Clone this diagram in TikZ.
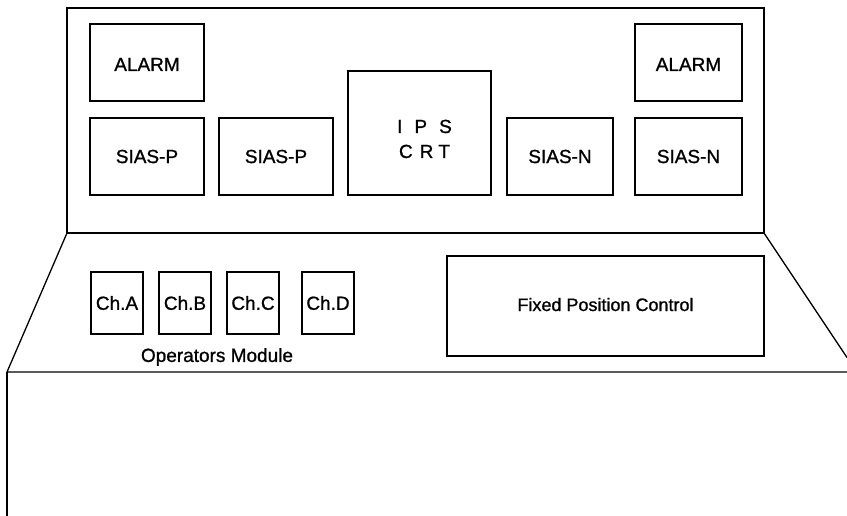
\documentclass[tikz,border=0pt]{standalone}
\usepackage{fontspec}
\setmainfont{Liberation Sans}[FakeBold=1]
\usetikzlibrary{positioning}

\begin{document}
\begin{tikzpicture}[
  x=1pt, y=-1pt, line width=1.3pt,
  box/.style={draw, line width=1.3pt, inner sep=0pt, outer sep=0pt, align=center,
              font=\fontsize{19}{24}\selectfont},
  sias/.style={box, minimum height=77pt},
  chan/.style={box, minimum width=52pt, minimum height=62pt}
]
  \useasboundingbox (0,0) rectangle (847,516);

  % upper panel
  \coordinate (pnw) at (67,8);
  \coordinate (pse) at (764,233);
  \coordinate (psw) at (67,233);
  \draw (pnw) rectangle (pse);

  \node[sias, minimum width=114pt]                                   (siasP1) at (147,156.5) {SIAS-P};
  \node[sias, minimum width=114pt, right=15pt of siasP1]             (siasP2) {SIAS-P};
  \node[box, minimum width=143pt, minimum height=124pt,
        right=15pt of siasP2.south east, anchor=south west]          (ips)
        {\hspace*{10pt}\raisebox{-25pt}[0pt][0pt]{\fontsize{19}{25}\selectfont
          \begin{tabular}[b]{@{}c@{}}I\hspace{12pt}P\hspace{12pt}S\\C\hspace{7pt}R\hspace{5pt}T\end{tabular}}};
  \node[sias, minimum width=106pt,
        right=16pt of ips.south east, anchor=south west]             (siasN1) {SIAS-N};
  \node[sias, minimum width=107pt, right=22pt of siasN1]             (siasN2) {SIAS-N};
  \node[sias, minimum width=114pt, above=17pt of siasP1]             (alarmL) {\raisebox{-8.5pt}[0pt][0pt]{ALARM}};
  \node[sias, minimum width=107pt, above=17pt of siasN2]             (alarmR) {\raisebox{-8.5pt}[0pt][0pt]{ALARM}};

  % console desk
  \coordinate (dl) at (7,372);
  \coordinate (dr) at (847,372);
  \coordinate (de) at (847,357.5);
  \coordinate (db) at (7,516);
  \draw (psw) -- (dl) -- (dr);
  \draw (pse) -- (de);
  \draw (dl) -- (db);

  \node[chan]                      (chA) at (117,303) {Ch.A};
  \node[chan, right=16pt of chA]   (chB) {Ch.B};
  \node[chan, right=16pt of chB]   (chC) {Ch.C};
  \node[chan, right=23pt of chC]   (chD) {Ch.D};
  \node[font=\fontsize{19}{24}\selectfont, inner sep=0pt] (opmod) at (217,357) {Operators Module};

  \node[box, minimum width=317pt, minimum height=100pt,
        font=\fontsize{18}{24}\selectfont] (fpc) at (605.5,306) {\raisebox{-5pt}[0pt][0pt]{Fixed Position Control}};
\end{tikzpicture}
\end{document}
